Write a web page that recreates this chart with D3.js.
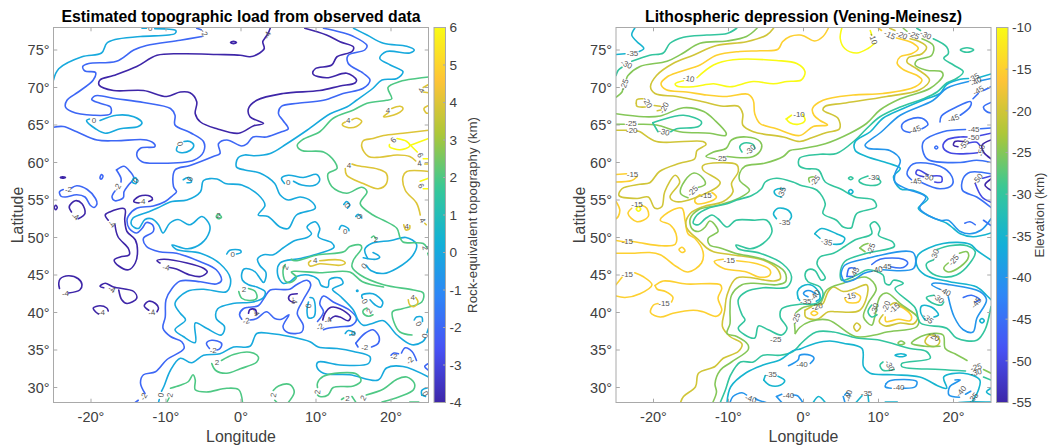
<!DOCTYPE html>
<html><head><meta charset="utf-8">
<script src="https://cdn.jsdelivr.net/npm/d3@7"></script>
<style>html,body{margin:0;background:#fff}svg{display:block}text{font-family:"Liberation Sans",Arial,sans-serif}</style>
</head><body><svg id="c" width="1050" height="445"></svg>
<script>
// ---- axis data ----
const lonTicks=[-20,-10,0,10,20];
const latTicks=[30,35,40,45,50,55,60,65,70,75];
const leftBarTicks=[-4,-3,-2,-1,0,1,2,3,4,5,6];
const rightBarTicks=[-55,-50,-45,-40,-35,-30,-25,-20,-15,-10];
const parula=[[.2422,.1504,.6603],[.281,.3228,.9579],[.1786,.5289,.9682],[.0689,.6948,.8394],[.2161,.7843,.5923],[.672,.7793,.2227],[.997,.7659,.2199],[.9769,.9839,.0805]];

// ---- left panel contours: flat lon,lat lists, one list per line ----
const leftM4=[
[3.9,77.9,3.6,77.2,3.2,76.6,2.9,76.1,3.1,75.2,2.5,74.6,1.2,74.1,-.1,74.3,-3.2,74.4,-7.7,74.5,-11.2,74.3,-13.9,72.8,-17,71.6,-18.8,71,-18.9,70.3,-17,69.6,-13,69.6,-9.9,68.8,-8.1,69.4,-6.8,69.3,-5.9,68.1,-6.1,66.5,-5.4,65.4,-3.2,64.5,-.3,63.9,1.7,64.9,3,65.2,1.2,66.1,1,67.2,2.1,68.3,5.6,69.2,10.5,69.6,13.2,70.2,15.2,70.6,15.4,71,14.1,71.9,11.4,71.3,9.6,71.8,9.9,72.5,12.1,73,12.8,74.1,14.8,74.8,15,75.4,13.2,76.1,11.4,77,8.5,77.9],
[-1.4,76,-1,76.15,-.6,76,-1,75.85,-1.4,76],
[-24.1,58,-23.8,58.1,-23.4,58,-23.8,57.9,-24.1,58],
[-24.9,54,-24.7,54.3,-24.5,54,-24.7,53.7,-24.9,54],
[-22.6,53.4,-22.9,54.1,-22.1,54.9,-21.2,54.5,-20.8,53.2,-21.7,52.5],
[-13.6,54.6,-14.3,54.8,-13.9,55.3,-13.2,55.6,-12.1,55.5,-11.8,55.1,-12.3,54.8],
[-17.7,52.3,-18.1,53,-17.5,53.4,-15.5,53.8,-15.5,52.3,-15.2,50.8,-14.1,49.7,-13.8,48.3,-14.1,46.6,-15,45.7,-16.3,46.2,-16.9,47,-16.1,47.4,-14.9,47.7,-15,48.5,-16.4,50.1,-16.8,51.7],
[-10.8,46.6,-11.2,46.9,-10.3,47.1,-7.2,46.6,-5,45.9,-4.5,45.4,-5.4,44.8,-6.8,45,-8.6,45.8,-9.5,46],
[-24.2,43.2,-24.3,43.9,-24.1,44.5,-23,44.9,-21.7,44.5,-21.2,43.7,-21.5,43,-23,42.6],
[-18.3,43.3,-18.8,43.5,-18.1,43.9,-17,43.4,-14.3,42.8,-13.9,41.9,-15.2,41.2,-15.9,41.7,-16.3,43],
[-19,39.8,-19.4,40.1,-19.7,40.6,-18.8,40.9,-17.9,40.6,-17.7,40.2],
[-12.3,40.3,-12.9,40.9,-12.3,41.5,-11.4,41.2,-11,40.6,-11.2,40.1],
[1,39.9,1.2,40.4,1.9,40.4,2.1,39.7],
[7.1,41.3,6.4,41.7,6.5,42.3,7.5,42.5],
[11.9,39.1,12.5,39.5,13.2,39.4,14.3,38.9,14.6,39.4,13.2,40.5,12,40.7,11.2,39.9,10.9,39]
];
const leftM2=[
[-5.9,77.9,-5.3,77.7],
[-5.2,76.8,-8.1,76.3,-12.6,75.6,-14.3,75,-16.6,73.5,-20.3,73.2,-21.1,72.8,-20.8,72.2,-19.4,72,-19.7,71,-21.7,69.4,-23.2,68.3,-23.4,67.4,-22.6,66.8,-19.7,66.3,-17.4,66.5,-17.4,67.4,-18.8,67.9,-19.9,68.4,-19.4,68.9,-16.6,68.5,-13,68,-9.4,67.2,-8.8,66.3,-8.8,65,-6.8,64,-5,62.8,-5,61.4,-6.3,60.3,-10.8,59.9,-13.2,60.1,-13.9,61,-13.4,61.9,-11.5,62.1,-11.5,62.4,-12.6,63,-16.6,62.9,-19.2,63,-21.9,64.1,-23.7,64.8,-25,64.7],
[11,77.9,13.2,77.4,15,76.8,16.8,75.6,16.5,75,14.3,74.3,14.3,73.2,16.3,71.9,17.2,71,16.3,69.9,13.6,69.2,11,68.3,7.6,67.9,5.4,67.5,5,66.5,5.6,65.6,6.3,64.5,5.4,64.1,3.4,63.4,1.6,63.4,.8,62.5,.1,62.2,-1.9,63,-3,62.5,-2.8,61.2,-3.7,60.8,-6.8,59.6,-8.8,59,-9,56.8,-8.6,56.1,-9.1,55.6,-10.1,54.8,-11.7,54.2,-13.9,53.9,-15,52.9,-15.2,52.3,-14.9,51.2,-13.9,50.6,-13.2,51.2,-12.6,52,-11.8,51.7,-11.7,50.8,-13,49.9,-12.6,48.8,-10.9,48.1,-8.6,47.9,-5.5,46.8,-3.3,45.7,-2.6,44.3,-3.3,43.8,-5.4,44.1,-8.1,44.2,-9.2,43.2,-10,41.7,-10.1,39.4,-10.4,37.9,-9.4,36.8,-7.9,36.1,-7.6,35.2,-9.9,33.7,-11.4,32.1,-13,31.7,-13.4,30.6,-12.8,29.2],
[-13.7,28.3,-14.1,28],
[-18.8,57.9,-18.6,58.4,-18.4,58.2,-18.6,57.8,-18.8,57.9],
[-16.6,59,-15.6,59.5,-14.8,58.8,-14.3,57.9,-15,57,-15.6,56.1,-15.7,55.3,-16.8,54.9,-17.2,55.4,-16.8,56.2],
[-16,57.4,-16,57.9,-16.6,59],
[-23.7,56.4,-24.2,56.1,-24,55.5,-23.4,55.4,-21.9,55.7,-20.8,55.4,-20.1,54.3,-19.6,54,-19.2,54.5,-19.4,55.2,-20.5,56.4,-21.9,56.9,-22.6,56.6],
[-4.2,35.2,-4.6,35.9,-3.9,36.3,-2.6,35.9,-2.8,35.2,-3.2,35],
[1.2,39,2.1,39.2,3.4,40.1,4.5,39.2,5.4,39.1,6.4,39.7,5.6,38.1,6.3,37.3,8.1,37.4,8.3,38.3,7.5,39.9,8.3,41.7,9.3,43.7,8.8,44.3,7.4,43.7,6.5,43.1,3.9,43,3.2,42.1,2.3,40.9,1,40.7,.3,40.5,-.2,39.7,.1,39.1],
[10.2,38.8,11,40.1,10.5,41.2,11,42.2,12.3,41.4,14.5,40.3,15.4,39.2,14.8,38.3,13.2,38.1,11.6,37.9,11,37.7],
[15.3,35.9,16.5,37.2,17.6,37.7,18.4,36.8,18.3,35.9,17.4,35.4],
[15.3,35.9,15.6,35.4],
[20,34.3,20.4,34.6,21,34.5],
[21.4,34.6,21.9,35.3,22.8,34.8,23.4,33.6],
[25,33.2,24.5,32.8,25,32.3]
];
const left0=[
[-25,71,-24.3,72.5,-21.2,74.1,-18.6,74.6,-17.9,75.9,-16.8,76.4,-13.4,76.8,-8.8,77.2,-8.7,77.6,-9.9,77.8,-11.5,77.85],
[-13.2,77.9,-12.6,77.9],
[15,77.9,16.8,77,19,75.9,22.1,75.5,23.1,75,22.5,74.6,19.4,74.8,18.5,73.9,19.9,73,21.6,72.1,20.8,71.2,18.8,71,17.6,69.9,15.4,68.3,14.1,67.4,11.9,66.5,8.8,64.3,6.1,62.5,3.9,61.2,1.7,60.9,.5,61,-.4,60.6,-.6,59.4,.5,59,2.5,58.6,4.5,57.2,5.2,55.7,6.3,55,7.9,55.4,9.4,54.8,9.9,53.9,7.4,53,6.3,51.2,5.2,51.4,3.6,52.8,2.3,53,3.2,54.3,2.3,55.7,.1,57,-2.1,57.2,-3.2,57.8,-5,57.6,-5.4,56.1,-7.2,55,-9.2,54.8,-11.2,53.9,-12.4,53.4,-14.4,52.6,-14.6,51.7,-13.7,51.2,-12.8,52.4,-11.9,52.5,-11,51.7,-10.4,50.6,-9.5,51.9,-8.4,52.4,-6.8,51.7,-5.2,52.8,-4.2,51.7,-4.2,50.8,-5.3,49.2,-7.1,48.5,-9.2,49,-8.6,48.4,-5.4,47.9,-2.8,46.5,-1.4,44.5,-1.9,42.8,-5,43.1,-7.2,42.8,-8.8,41.2,-8.1,39.9,-7.4,39,-8.8,37.7,-7.7,36.8,-6.1,36,-6.1,38.6,-4.6,37.9,-2.6,37,-2.2,38.1,-3.3,39.2,-3.1,40.5,-1.1,41.2,1.6,41.4,3,42,3.2,42.8,2.1,43.4,1,43.7,.2,44.3,.1,45.2,.4,45.8,1.1,45.8,1.9,45.4,2.5,44.6,3,44,3.3,44.6,3.3,45.4,2.5,46.3,2.2,47.1,3,47.7,4.3,47.7,5.6,48.6,7.2,49.6,8.8,50,9.4,50.5,8.8,51.4,9.9,52.1,10.5,51.2,10.3,50.1,12.1,49.3,12.4,48.7,10.5,47.9,7.9,47.2,5.2,46.6,4.9,45,5.6,43.9,6.5,44.1,7.4,44.8,9,45,10.3,44.4,10.7,43.6,11.6,43.4,11.8,44.4,13.2,44.6,13.6,43.9,12.2,43.1,13.2,42.2,15,40.3,15.6,39,16.3,38.3,17.4,38.5,19,38.9,20.8,37,22.8,35.7,24.2,36.1,24.6,36.6],
[24.8,37.3,25,37.9],
[-18.8,65.6,-16.6,66.3,-14.3,66.1,-13.2,65.3,-13.7,64.8,-16.1,64.5,-18.1,63.9,-19.4,64.5,-20.6,65.6,-20.2,65.8],
[-8.5,62.1,-8.6,61.6,-7.9,61.3,-6.8,61.6,-6.3,62.3,-6.8,62.8,-7.6,62.8],
[-14.5,57.4,-14.2,58,-13.9,57.8,-14,57.2,-14.5,57.4],
[-7.7,57.7,-7,58,-6.6,57.4,-7.2,57.3],
[5.8,57.2,5.4,57.9,6.3,58.3,8.3,58,10.1,58.4,10.5,57.7,9.9,57,8.1,57,7,57.5],
[13.1,51.1,13.4,51.6,14.3,51.2,14.4,50.9],
[-1.9,47.8,-1.5,48.3,-.1,48.3,0,48,-.6,47.8],
[13.7,54.4,14.1,54.8,14.5,54.3,14.2,53.9],
[15.3,52.8,15.6,53.1,16.1,52.6],
[16.2,41.9,16.1,42.3,17.6,42.5,18.9,41.4,18.6,40.7,17.9,41,17.2,41.7],
[15.4,42.9,15.5,43,15.6,42.9,15.5,42.8,15.4,42.9],
[9,41.4,8.8,40.3,9,39.3,9.7,39.4,9.9,40.8,9.6,41.9,9.2,42],
[13.9,37.2,14.3,37.6,15.2,37.2,14.5,37],
[23.1,39,23.4,39.4,24.1,39.4,24.2,38.8],
[-10.6,29.5,-10.3,30.1,-9.4,32.3,-8.1,33.9,-6.6,33.3,-5,34.3,-2.8,34.5,-1,35.4,1.2,35.5,2.1,37.2,3.9,37.2,6.5,36.8,9.2,36.1,10.3,35.4,12.8,35.2,15,34.8,17.2,34.1,17,33.2,13.2,33,10.3,33.4,10.1,32.8,11,31.9,14.5,31.7,18.3,31,19.4,32.6,21.6,32.8,25,31.4],
[-11,28,-10.9,28.4],
[16.9,47.2,16.5,48.4,17.4,49.2,20,49.6,22,50,23.4,49.1,22.9,47.6,20.8,45.9,19,45.2,17.3,45.6,16.7,46.3],
[16.3,47.3,18,47.1,18.5,47.4,17.6,48],
[24.1,29,24.1,29.6,25,30],[24.1,29,24.6,28.8]
];
const left2=[
[25,71.4,23.4,71.2,21.2,70.8,19.6,70,20.1,68.5,19.4,68.3,16.8,67.9,15,67,12.3,65.9,10.5,64.1,8.3,63.1,7.5,62.3,8.1,61.6,11,61.4,12.5,60.1,12.8,59.2,11.6,58.5,12.1,56.8,14.1,55.9,16.1,56.7,16.8,56.1,15.9,54.5,17.6,53,19,52.3,20.8,51.2,21.2,50,21.6,49.4,24.3,49.2,24.8,48.6],
[24.9,47.9,25,47.6],
[6.7,47.1,7.2,46.9,10.3,47.7,13.7,48.1,14.5,48.8,15.9,49,16.1,48.6,15,47,14.8,46.1,15.9,45,19,43.7,23,43,24.3,42.6,24.1,41.4,21.5,40.5,20.2,40.1,20.4,38.7,21.2,37.4,22.8,37],
[5.9,46.4,5.6,45.6,5.9,44.2,6.6,44,7.4,44.7,6.7,45.4,7.2,45.5,10.5,45.3,14.5,45.4,16.2,44.1,19,43.4],
[-9.9,28,-9.6,28.6],
[-9.4,29.9,-8.1,30.3,-7,30.8,-6.4,31.7,-6.1,31,-6.1,29.7,-4.6,29.4,-1.9,29.9,-.3,29.7,.2,28],
[-3.9,33.2,-3.4,32.3,-1.9,31.9,-.1,32.5,2.1,33.4,2.3,34.1,1.2,34.7,-1,34.4,-2.6,33.6],
[1,43.2,1.9,42.8,2.1,41.9,1.2,41.6,.1,41.9,-.3,42.8],
[4.3,29.6,5,30.2,6.5,30.4,7.1,29.4,6.3,28],[4.5,28.3,4.8,28],
[10.2,30,10.2,30.6,11,31.5,15.4,31.8,16,30.9,15,30.2,12.3,30,11.6,29,10.5,28.8,10.2,29],
[14.8,28.8,15.3,28.05],[13.7,28.6,13.4,28.4],
[16.7,29,19,29.8,20.8,31.1,22.1,31.4,23.1,30.6,23,29.7,21.2,28.8,19.7,28.3,18.8,28.05],
[17.4,50,17.7,50.2,18,49.8],
[16.8,40.6,16.3,40.3,16.3,39.9,17,39.5,17.6,39.7],
[-3.3,52.8,-3,53.1,-2.6,52.7,-3,52.5,-3.3,52.8],
[22.5,28.05,23.7,28.05]
];
const left4=[
[24.3,70,25,70.4],[24.3,69.4,25,69.3],
[25,67.6,24.4,67.2,24.7,66.6,25,66.6],
[19.6,66.6,19,66.1,20.8,66.5,21.6,67.2,21.2,67.5,20.1,67.2],
[13.9,65.4,13.5,65.1,14.1,64.7,15.4,64.8,16.1,65.5,15.4,65.9,14.8,65.7],
[25,64.3,21.6,63.9,19,63.6,17.6,63.2,16.3,62.9,16.1,62.1,17,60.8,18.5,60.7,20.8,61,22.5,60.8,23.3,60.2],
[24.5,59.8,25,59.8],
[13.9,59.2,14.1,58.3,16.3,57.2,18.3,56.5,19.4,57.2,19.4,58.5,18.3,59.1,15.4,59.6,14.8,59.8],
[25,58.8,22.1,58.8,21.6,58.1,21.9,56.3,23.4,54.6,23.9,53],[24.5,51.9,24.7,51.7],
[21.7,51.7,22,51,22.5,51.2,22.5,51.6],
[10.5,46.9,13.2,47,13.9,46.6,13.2,46.3,10.5,46.5,9.2,46.2,9,46.6,9.3,46.9],
[22.3,41.7,22.5,41,23.1,40.8,23.6,41.4,23.3,42]
];
const left6=[
[20.8,63.2,22.1,62.8,22.5,62.2,21.2,61.7,19.8,62.1,19.8,62.4],
[22.6,62.3,25,63.2],[22.6,62.3,23.5,61.4],[24.3,60.5,25,60.5],
[25,57.9,23.9,57.5],[24.3,56.5,25,56.5]
];
const leftContours=[[-4,leftM4],[-2,leftM2],[0,left0],[2,left2],[4,left4],[6,left6]];
const leftLabels=[["0",-12.1,77.9,0],["-2",-4.9,77.3,60],["-4",3.5,77,-65],["0",-19.6,65.6,0],["0",-8.1,62.5,70],["-2",-23,56.5,0],["-2",-16.5,56.7,-60],["0",-14,57.6,-60],["0",-6.8,57.8,-60],["-4",-13.2,54.8,0],["-4",-22.1,52.8,30],["-4",-17.2,51.8,45],["2",-3,53,0],["-4",-23.4,42.6,0],["-4",-17.2,43.1,30],["-4",-18.6,40.1,0],["-4",-11.9,40,-10],["-4",-10,46,10],["-2",-3.7,35,0],["-2",-13,28.8,-60],["0",-10.7,29,-80],["2",-9.5,29,-80],["2",-3.2,33.4,0],["2",.4,43.1,0],["-2",.7,38.9,-10],["-4",2,40,60],["-4",7.1,41.6,80],["0",9,40.9,-85],["-2",10.5,38.1,-30],["-4",11.6,39,-20],["0",15,37.3,0],["-2",16.5,35.4,0],["-2",20.4,34.2,0],["-2",22.5,33.6,-45],["2",4.3,29,-80],["2",10.2,29.4,-85],["2",14.2,28.6,0],["2",16.3,28.6,-60],["0",24.6,29.2,60],["0",23.7,38.5,60],["0",24.5,36.9,-80],["4",22.9,42,0],["2",17.1,40.2,-60],["0",16.5,41.5,60],["0",16.4,46.2,-50],["2",5.9,46,-70],["4",9.9,47,0],["0",13.9,50.9,0],["0",-1.1,47.8,0],["2",18,49.8,0],["2",24.6,48.6,80],["4",22.1,51.5,0],["0",14.2,54.3,60],["0",15.8,52.8,60],["4",24.2,52.3,60],["6",24,56.9,60],["4",14.4,59.6,0],["0",6.3,57.4,0],["4",23.8,59.9,-10],["6",23.9,61,60],["6",20.3,63,-50],["4",19.6,67,0],["4",14.3,65.6,0],["4",24,69.6,-70]];

// ---- right panel contours ----
const rightM10=[
[-14.2,71.3,-12,73,-9.4,73.7,-3.6,73.6,-.9,73.2,.2,72.1,-.3,71,-2.2,70.8,-4,70.5,-6.7,70.8,-9.8,70.1,-12,70.5,-14.7,70.1,-16.9,70.2,-17.1,70.5,-16,70.9],
[5.1,77.9,4.9,76.5,5.5,75.2,7.1,74.6,8.6,75.2,9.5,75.9],[9.1,77,8.9,77.6],
[-2.3,65.8,-1.6,66.3],[-2.3,65.8,-1.8,65.3,-.7,65.1,.2,65.6,-.1,66.4],
[-22.3,53.8,-22,54.1,-21.7,53.8,-22,53.5,-22.3,53.8]
];
const rightM15=[
[3.3,77.9,2.6,76.8,1.5,76.2,.2,76.8,-.5,77,-1.8,76.8,-2.8,76.1,-3.4,75.1,-5.8,74.9,-8.5,74.8,-11.6,74.3,-13.8,73,-16.5,72.1,-18.2,71.4,-19,70.5,-18.3,69.7,-15.6,69.4,-12.9,69,-10.2,68.8,-7.4,69.1,-6.7,68.3,-6.5,66.5,-5.8,65.2,-3.6,64.5,-.5,63.6,1.3,64.8,3.2,65,2.2,65.6,1.4,66.3,1.2,67.2,2.6,68.3,6.6,69,10.6,69.2,14.9,70.1,15.8,71,15.3,71.5,13.3,72.4,12.5,73.2,12.9,74.1,14.4,74.5,15.3,75.2,14.6,75.9,12.4,76.6],
[10.4,77.6,10,77.9],
[-25,58.4,-23.6,58.5],[-22.2,58.1,-22.9,57.6,-25,57.4],
[-13.8,55.7,-14.5,55,-14.2,54.5,-12,55,-11.6,55.4,-12.2,56],
[-25,54.8,-24.5,53.7,-24.7,52.8,-25,52.5],
[-22.9,53.9,-23.4,53.2,-22.2,52.1,-20.7,52.8,-20.9,53.9,-21.6,54.3],
[-23,49.5,-21.8,49.3,-18.9,48.9,-17.1,49.1,-17,50.5,-17.8,51.7,-19.1,52.3,-17.6,53.6,-16.2,53.9,-15.8,52.3,-15.4,50.5,-14.5,49.9,-13.4,48.1,-13.6,46.6,-15.4,45.4,-16.9,46.1,-19.1,47.7,-20.5,48,-22.5,47.9,-25,47.9],
[-25,49.6,-23.8,49.4],
[-16.6,48.4,-16.2,48.7,-15.8,48.2,-16.2,48,-16.6,48.4],
[-22.5,45.3,-21.4,44.8,-20.2,43.7,-21.8,42.5,-23.8,42,-25,42.2],[-25,43.7,-24.2,44.7],
[-19.8,43.6,-18.7,44.2,-15.6,43.8,-11.1,43.7,-10.9,43.2,-11.4,41.9,-10.9,40.3,-11.6,39.5,-13.4,40.1,-14.7,40.3,-17.4,39.9,-19.1,39.4,-20.4,40,-20,41,-19.4,41.2],
[-17.6,41.4,-17.4,42,-18.4,42.8,-19.5,43.1,-19.8,43.6],
[-10.7,47.1,-11.9,46.8,-10.7,45.9,-7.6,45.4,-5.8,44.7,-4.5,45,-4.5,45.7,-6.2,46.5,-8.9,46.9],
[5.5,41.9,5.8,41.4,7.3,41.4,7.6,42.1,6.9,42.6],
[1,39.9,1.4,40.2,1.9,39.9,1.4,39.6,1,39.9],
[10.9,39.4,11,38.8,12.7,39.1,14.2,38.9,14.4,39.5,13.3,40.6,12.8,40.8]
];
const rightM20=[
[-4,77.9,-4.9,77,-7.6,76.1,-11.6,75.6,-14.7,74.3,-17.4,73.2,-19.6,71.6,-20.4,70.1,-19.8,69.2,-16.9,68.8,-13.4,68.1,-10.7,67.5,-8.7,67.5,-8.1,66.5,-8.1,65,-6.7,64.1,-2.7,63.4,-.5,62.8,1.1,63.3,3.1,64,4.8,64.5,4.6,65.9,2.6,67,2.9,67.5,5.3,67.9,11.1,68.8,15.5,69.7,16.8,71,15.1,72.5,13.8,73.4,14,74,15.8,74.5,16.4,75.4,15.5,76.1,14.2,76.5],
[12.2,77.6,11.5,77.9],
[-25,64.3,-23.6,64.3],[-22.2,64.2,-21.8,64.1,-19.6,62.8,-13.4,62.8,-13,62.4,-14.2,61.6,-14.5,60.5,-16.5,59.9,-19.2,58.8,-20.5,57.3,-21.8,57.1,-24.2,56.5,-24.6,55.6,-22.2,55.2,-20.7,55.4,-19.8,53.9,-18.9,54.1,-18.5,56.1,-17.1,58.3,-16.5,57.4,-17.8,55.4,-17.1,54.8,-14.7,55.2,-11.1,57.3,-13.4,59,-13.4,59.6,-8.9,59.7,-8.7,58.8,-9.6,57.2,-9.4,56.1,-10.7,54.8,-13.4,54.1,-15.1,53.2,-15.7,51.9,-15.4,51,-14,49.7,-12.9,48.6,-12,48.1,-9.6,47.7,-5.4,47,-3.4,45.7,-3.1,44.5,-4,44.2,-8.9,44.6,-10.2,42.3,-10.5,40.3,-10.8,38.1,-9.8,36.8,-8.2,35.8,-8.7,34.8,-10.7,33.9,-11.8,32.8,-14,31.9,-14.4,30.1,-16,28.8,-16.4,28],
[-22.3,67.9,-22.2,68.4,-21.4,68.5],[-22.3,67.9,-22.2,67.5,-21.1,67.4],
[-19.9,67.6,-19.1,67.5],[-19.5,66.9,-19,67],
[.2,40.3,.3,39.4,1.8,39.1,3.3,40.1,4.4,40.1,7.5,40.3,8.6,43,8.4,43.7,6.9,43.2,5.3,42.8,4,43.4,3.3,42.8,2.6,41.2,2.2,41],
[1.1,40.8,.2,40.3],
[6.7,38.1,7.1,38.6,7.6,38.1,7.1,37.5,6.7,38.1],
[10.6,39.7,10.1,38.8,10.9,38.2,12.9,38.6,14.7,38.5,15.2,39.4,13.5,40.6,12.2,41.3,11.6,41],
[16.2,36.1,16.8,37,18,36.6,18.1,35.9,17.6,35.5,16.7,35.6,16.2,36.1]
];
const rightM25=[
[-25,68.7,-24.2,69.4,-24.1,69.8],[-23.6,71.2,-23.4,71.6,-21.8,72.8,-18.2,73.5,-16.2,74.5,-13.8,75.9,-10.2,76.2,-7.6,76.8,-6.2,77.9],
[13.3,77.9,13.8,77.5],[15.8,76.5,17.3,75.6,17.1,74.3,15.1,73.6,14.9,73,16.4,72.3,18.4,72.1,18.6,71.6,16.9,69.9,12.9,68.5,10.2,67,8.4,65.2,6.2,63.9,2.9,62.5,-.5,61.8,-1.8,61.6,-2.7,60.8,-5.2,59.9,-7.8,59.5,-8.5,58.6,-8.5,57.6,-7.2,56.3,-8.7,55.2,-11.4,54.3,-14,53.7,-15.1,52.5,-14.9,51.2,-14,50.8,-13.1,51.4,-12.5,52.2,-11.6,51.4,-11.4,50.8,-12.7,49.9,-12.5,49,-11.1,48.6,-9.1,47.9,-5.1,47,-2.5,45.4,-2.4,44.1,-3.6,43.7,-6.7,43.9,-8.2,43.7,-9.6,42.3,-9.8,40.3,-9.8,38.5,-10.2,37.2,-8.9,36.8,-7.4,35.7,-7.4,35,-9.6,33.4,-11.1,32.3,-11.8,30.5,-11.6,29.4,-12.1,28],
[-25,66.5,-21.3,66.1,-19.1,66.2,-16,67.3,-13.3,66.8,-11.8,65.6,-10.3,63.9,-10.4,63.6,-12.5,63.9,-16.5,64.1,-19.6,65,-22,65.1],[-23.9,65.1,-25,65.1],
[-11.8,60.5,-13,60.8,-12,61.4,-10.3,61.9,-9.6,63,-7.6,63.4,-5.8,62.8,-5.6,61.9,-6.7,60.8,-10.2,60.8],
[-15.4,55.3,-16.4,55.9,-15.8,57.6,-14.6,58.6,-13.4,57.9,-13.1,57.1,-14,56.7],
[.8,57.4,.7,57.9,1.3,58.1],
[-1.1,37.2,-.5,38,.9,38.8,3.3,39,6.9,36.8,9.5,37,11.1,37.4,15.1,38.1,15.3,39.2,12.9,41.2,11.1,42.6,10.2,42.1,9.5,39.4,9.1,38.3,8,39.4,8.6,41.2,9.7,43.2,8.4,44.7,5.3,43.9,3.1,43,2.2,41.2,.9,40.9,-.2,40.6,-1,40],
[-1.2,38.5,-1.1,37.2],
[7.5,48.6,8,49,8.6,49.2],[7.5,48.6,8.2,48.1],
[12.6,35.9,13,36.2,13.5,35.9,13,35.7,12.6,35.9],
[18.2,35.5,16.2,35.5,14.4,35.9,16.2,37,18.6,37,18.9,35.2,20.2,34.5,21.8,33.6],[24,32.4,25,31.9],
[19.3,46.6,18.7,45.9,19.3,45.4,20.9,46.1,22,47.4,21.8,48.1,20.8,47.9]
];
const rightM30=[
[-25,71.6,-24.7,72.3,-24.2,72.7],[-22.9,73.5,-20.5,74.3,-18.7,74.6,-17.8,75.9,-16,76.7,-12.9,77,-10.2,77.2,-8.9,77.9],
[15.1,77.9,15.6,77.6],[17.3,76.5,19.1,75.4,19.3,74.5,18.7,73.9,20,73,21.3,72.1,20.4,71.2,19.1,70.6,17.8,69.4,16,68.5,12.9,67.4,10.2,66.1,8.4,64.5,6.9,63,4.4,61.2,2.2,61.1,-.5,60.6,-.6,59.6,.2,59.2,2,59,2.9,57.4,4.9,56.5,6.9,55.4,9.3,55,9.7,54.1,7.1,53.2,6.6,51.9,6.4,51.3,5.3,51.4,4.4,52.3,2.6,53.2,2.9,54.5,1.8,56.3,-.5,57,-1.4,57.4,-3.6,57.9,-5.1,57.4,-5.6,56.5,-6.9,55.6,-8.9,55,-10.2,54.5,-12.7,53.9,-14.2,53,-14.7,51.9,-14,51.7,-13.1,52.5,-12.2,53,-11.4,52.5,-10.2,51.4,-9,52.3,-6.5,52.3,-4.9,52.3,-4.2,50.8,-5.4,49.2,-7.1,48.5,-9,49,-8.7,48.5,-5.8,47.9,-2.8,46.5,-1.6,44.8,-2.2,43.4,-5.4,43.3,-7.6,42.8,-8.7,41.7,-8.2,39.7,-7.8,39,-8.7,37.9,-7.8,37,-6.5,36.6,-6,38.2,-4.7,37.7,-2.9,37,-2.2,37.9,-3.1,39.4,-2.9,40.5,-.5,41.1,1.7,41.2,2.6,42.3,2.2,43.4,.6,44.1,.2,45,.6,45.7,1.5,45.6,2.4,44.3,2.9,44.6,1.8,46.5,2.2,47.4,4,47.9,5.5,48.8,6.9,49.7,9.1,50.5,8.9,51.7,9.5,52.1,10.2,51.2,10,50.3,11.9,49.4,12.1,48.8,8.4,47.9,5.5,46.8,4.9,45.2,5.1,44.3,7.1,45,8.6,45.7,10.6,45,10.9,43.9,11.5,43.7,12,44.3,13.3,43.9,12.2,43.2,14.9,40.6,15.6,38.6,19.1,37.9,20.4,36.6,23.1,36.3,24.2,37.7,25,40.8],
[-20.1,65.3,-19.2,65.6,-16,66.3,-13.6,65.4,-14,64.8,-16.9,64.5,-17.7,64.1],[-19.4,64.1,-20.1,65.3],
[-8.2,61.4,-8.5,62.1,-7.9,62.6,-6.7,62.4,-6.5,61.9],
[6,57.9,6.3,58.1,6.6,57.9,6.3,57.7,6,57.9],[20.9,75,21.8,75.3,22.7,75,21.8,74.7,20.9,75],
[8.6,58.2,7.4,57.6,8,57.1,9.8,57,10.3,57.4,9.9,57.9],
[17.3,47,16.4,46.5,16.6,45.7,18.2,44.8,20.4,45,22.2,46.6,22.9,48.1,21.8,48.9,19.5,48.9,17.8,48.4],
[9.1,41,8.6,40.1,9.1,39.4,9.8,39.7],
[17.4,42.3,16.4,42,17.1,41.3,18.4,41,18.7,41.4],
[-.5,35.7,1.7,37.4,4,37.4,7.1,36.6,10.2,36.3,14.2,35.2,16.4,34.8,16.9,33.9,13.1,33.2,13.1,32.8,18.2,32.4,21.6,32.2],[24,31.4,25,31],
[-.5,35.7,-1.4,34.8,-3.1,34.3,-5.4,34.3,-6.7,33.4,-8.4,33.4,-9.7,31.7,-10.4,29.7,-11.1,28],
[10.6,33.4,10.2,33,10.6,32.3,12.1,32.4]
];
const rightM35=[
[-22.5,77.9,-22.9,77,-22.2,76.1,-21.3,75.2,-21.9,74.8],[-25,74.4,-23.8,74.5],
[25,71.8,23.3,71.3],[22,71.2,20.9,71.1,19.1,70.4,18.2,69.2,16.4,68.5,13.3,67.2,10.6,65.9,8.9,64.1,6.9,62.8,6.9,61.6,8.4,60.8,11.3,59.9,12.9,59.2,12,58.1,12.9,56.5,14.6,56.3,16.6,55.2,15.3,53.9,16.9,52.8,19.1,51.9,20,51.2,20.9,50.5,22.6,50.1,25,50.6],
[6,56.1,6.3,56.4,6.6,56.1,6.3,55.8,6,56.1],
[-2.9,55.4,-3.6,55.6,-3.9,56.2,-3.4,56.5,-2.6,56.5],
[-3.6,52.5,-4,53.2,-3.4,53.9,-2,53.6,-1.6,52.8,-1.8,52.4],
[1.5,50.5,2.4,51.2,4.4,50.5,5.5,49.9,5.1,49.2,4,49.1],[2.2,49.9,1.5,50.5],
[-.7,41.9,-.8,42.8,-.2,43.5,.9,43.7,2,42.8,2.2,41.9,1.7,41.5],[-.5,41.6,-.7,41.9],
[25,47,23.1,48.3,22.2,49.1,18.6,49.2,15.3,47.7,15.1,46.3,16.2,45,19.5,44.1,23.1,43.4,24.4,42.3,25,41.7],
[16.2,39,15.6,40.1,15.8,40.9,17.1,40.7,18,39.7,17.4,39.4],
[23.5,38.9,23.8,39.2,24.1,38.9,23.8,38.6,23.5,38.9],
[12.2,34.3,13,34.5,13.7,34.3,13,34.1,12.2,34.3],
[-.5,35.1,1.6,35.9,3.5,36.2,5.3,35.9,7.8,35.2,8,32.8,8.9,31.9,12,31.7,15.5,31.4,18.2,30.1,19.1,29.9,18.7,31.4,21.3,31.9,23.5,31,23.3,29.6,22.4,28],
[-.5,35.1,-1.4,34.9,-3.1,33.7,-5.4,33,-7.6,32,-9.7,30.1,-10.2,28],
[-5.3,31,-4.5,30.3,-3.1,30.3,-2.5,30.9,-3.4,31.5],[-5.3,31,-5.1,31.6],
[7,28,7.8,28.9],[8.6,29,8.7,28],
[1.3,28,2,28.8,2.9,28],
[25,29.9,24.4,29.4,25,29],
[20.7,28,22.5,28.1,25,28.05],
[10.9,28.05,12.5,28.05]
];
const rightM40=[
[25,71.2,23.6,70.9],[22,70.8,19.1,69.9,17.3,68.3,12.9,66.3,10.4,64.1,8.2,62.3,8.6,61.9,11.5,61.6,12.9,60.3,12.2,58.5,12.2,57.4,13.7,56.5,16.3,55.4,15.5,53.9,18.2,52.3,19.3,52.3,20.9,50.8,22.2,50.5,23.7,51,25,52.5],
[.6,42.1,0,42.5,.4,42.9,.9,42.9,1.6,42.5],
[5,45.2,5.5,46.3,8.4,47.2,14.6,48,14.7,45.9,10.6,45.7],[9.1,45.5,8,45.2,6.6,44.3,5.5,44.1,5,45.2],
[18.2,43.1,17.1,43.7,17.3,43.9,19.5,43.7,23.5,42.8,24.4,41.7,23.1,39.2,22.6,37.4,21.3,37.7,20.1,39.4,19.3,42.1],
[-2,32.9,-.7,33.7,-.5,34.3,.9,34.3,1.4,33.9,.9,33.2],
[-9.8,28,-9.4,28.8,-8.2,29.3,-7.6,29],[-6.4,28.5,-6,28.3,-5,28],
[-3.6,28.8,-2.9,29.1],[-1.4,29,-.8,28.9,-.1,28],[-3.6,28.8,-2.9,28],
[5.5,29,5.8,29.3,6.2,29],[5.3,28.8,5.5,28.1],
[11,30.5,11.5,30.9,15.1,30.8,14.9,30.1,13.3,29.9],[11.7,29.9,10.9,30.1,11,30.5],
[20.2,31,20.9,31,19.5,30.1,19.4,29,20.8,28.7],[21.6,29.1,22.3,29.5]
];
const rightM45=[
[14.2,64,13.3,64.3,13.1,65,14,65.7,15.8,65.9,16.6,65.1,15.8,64.5],
[18.2,65.4,18.4,66.2,20.4,67.4,22.3,68.1,22.2,67.4,20.9,66.3],
[22.6,68.5,23.3,69.2],[24,69.6,25,70.1],
[25,68,24,67.4,24.4,66.8,25,66.6],
[25,64.6,23.6,64.5],[21.6,64.4,18.6,64.1,16,62.8,15.9,61.6,16.6,60.4,20.9,60,23.1,60.3,25,60],
[14.4,57.7,13.8,58.5,14.6,59.8,18.2,59.5,19.8,58.1,19.8,57,18.2,56.5,15.8,57.3],
[25,58.5,22.2,58.7,21.3,57.9,21.2,56.3,23.1,55.4,25,54],
[9.1,46.4,10.2,47.1,13.3,47.1,13.9,46.6,13.3,46,11.6,46.1],
[5.8,44.8,6.1,45.9,6.9,45.9],[6.6,44.8,5.8,44.8],
[21.3,42,22.4,42.3,23.5,41.7,22.9,41.4],
[21.5,51.9,22.2,52.1,22.9,51.7],[24,52.3,25,51.6],
[17.5,62,17.7,62.2,17.9,62,17.7,61.8,17.5,62]
];
const rightM50=[
[25,63.9,23.6,63.6],[21.8,63.4,20.9,63.4,19.1,63,18.6,62.1,19.5,61.3,22.2,61.2,23.2,61.3],[23.5,62.3,23.1,62.7,22,62.6],
[16,58.1,15,58.5,15.2,59,16.6,58.3],[17.2,58.2,18.4,58.1,18.4,57.4,17.5,57.4],
[25,58.2,23.9,57.9],[22.9,57.2,23.8,55.4,25,54.7]
];
const rightM55=[
[20.6,62.1,20,62.3,20.2,62.8,21.3,62.8],
[25,63,23.8,62.3,24,61.4,25,60.5],
[25,57.8,24.2,57,25,56.3]
];
const rightContours=[[-10,rightM10],[-15,rightM15],[-20,rightM20],[-25,rightM25],[-30,rightM30],[-35,rightM35],[-40,rightM40],[-45,rightM45],[-50,rightM50],[-55,rightM55]];
const rightLabels=[["-35",-22.8,74.6,0],["-30",-23.6,73.1,25],["-25",-23.9,70.4,-70],["-10",-15.3,71.2,10],["-20",-20.8,68,60],["-20",-18.6,67.3,-60],["-10",-.6,66.5,0],["-25",-23,65.2,0],["-20",-22.9,64.3,0],["-30",-18.6,64.1,15],["-30",-7.1,61.7,-45],["-25",-11,60.6,0],["-15",-22.8,58.4,0],["-25",-14.8,56.2,-45],["-15",-13,55.7,0],["-15",-22.2,54.5,0],["-35",-2.9,56,-70],["-35",-2.5,52.1,0],["-15",-23.5,49.5,0],["-15",-9.9,47,0],["-15",-23.5,45.1,0],["-15",-18.6,41.2,0],["-25",-1,39.2,-70],["-35",.3,41.5,0],["-40",1.5,42.3,-50],["-25",-3.7,36.5,0],["-40",-.2,33.1,0],["-35",-4.3,31.8,0],["-40",-7,28.5,20],["-40",-2,29,0],["-40",6,28.9,-80],["-35",8.4,29.3,0],["-10",9.3,76.5,70],["-15",11.5,77,25],["-20",13.1,77,25],["-25",14.7,77,25],["-30",16.3,77,25],["-35",22.7,71.3,-30],["-40",23,70.8,-30],["-45",23.3,69.6,-30],["-45",20,65.9,-20],["-45",14.9,64.4,-20],["-45",22.7,64.5,0],["-50",22.7,63.4,0],["-55",21.4,62.4,-50],["-50",23.7,61.6,-80],["-30",9.4,58.1,0],["-25",1.5,57.6,-50],["-45",15,57.5,-10],["-50",16.6,58.1,15],["-50",23.2,57.8,-50],["-35",3.1,49.4,10],["-25",9,48.5,-70],["-45",6.8,45.3,-60],["-40",9.8,45.7,-10],["-45",11,46.2,0],["-30",17.5,47.7,-70],["-25",20,47,-50],["-40",18.9,42.8,30],["-30",18,41.9,40],["-45",23,41.3,-50],["-35",16.6,39.2,40],["-15",6.2,42.2,-10],["-20",1.8,40.8,-15],["-30",9.5,40.5,-75],["-20",11,40.8,-70],["-15",12.1,40.6,-40],["-20",17.4,36.8,30],["-25",23,32.7,-15],["-30",23,32,-15],["-30",11.5,32.9,60],["-40",12.7,30,0],["-40",21,29.5,-50],["-35",22.6,28.6,-50]];

// ---- drawing ----
const svg=d3.select("#c");
const t=d3.range(parula.length).map(i=>i/(parula.length-1));
const par=d3.scaleLinear().domain(t).range(parula.map(c=>d3.rgb(c[0]*255,c[1]*255,c[2]*255))).interpolate(d3.interpolateRgb);
const W=375,H=375,TOP=27.5;
const AX="#a9a9a9",TX="#404040";
function panel(X0,title,contours,labels,cmin,cmax,barTicks,barLabel,labelX){
 const x=d3.scaleLinear().domain([-25,25]).range([X0,X0+W]);
 const y=d3.scaleLinear().domain([28,78]).range([TOP+H,TOP]);
 const color=v=>par((v-cmin)/(cmax-cmin));
 const id="clip"+X0;
 svg.append("clipPath").attr("id",id).append("rect").attr("x",X0).attr("y",TOP).attr("width",W).attr("height",H);
 const g=svg.append("g").attr("clip-path",`url(#${id})`);
 const pts=a=>d3.range(0,a.length,2).map(i=>[a[i],a[i+1]]);
 contours.forEach(([lev,lines])=>{
  lines.forEach(a=>{
   let p=pts(a);
   const closed=p.length>3&&p[0][0]===p[p.length-1][0]&&p[0][1]===p[p.length-1][1];
   if(closed)p=p.slice(0,-1);
   const ln=d3.line().x(d=>x(d[0])).y(d=>y(d[1])).curve(closed?d3.curveCatmullRomClosed:d3.curveCatmullRom.alpha(.5));
   g.append("path").attr("d",ln(p)).attr("fill","none").attr("stroke",color(lev)).attr("stroke-width",1.6).attr("stroke-linejoin","round").attr("stroke-linecap","round");
  });
 });
 labels.forEach(([s,lo,la,ang])=>{
  g.append("text").attr("transform",`translate(${x(lo)},${y(la)}) rotate(${ang})`).attr("text-anchor","middle").attr("dy","0.35em").attr("font-size",8).attr("fill","#555").text(s);
 });
 // box + ticks
 svg.append("rect").attr("x",X0).attr("y",TOP).attr("width",W).attr("height",H).attr("fill","none").attr("stroke",AX).attr("stroke-width",1);
 lonTicks.forEach(v=>{
  [[TOP+H,TOP+H-3.8],[TOP,TOP+3.8]].forEach(([a,b])=>svg.append("line").attr("x1",x(v)).attr("x2",x(v)).attr("y1",a).attr("y2",b).attr("stroke",AX));
  svg.append("text").attr("x",x(v)).attr("y",TOP+H+19.5).attr("text-anchor","middle").attr("font-size",14.5).attr("fill",TX).text(v+"°");
 });
 latTicks.forEach(v=>{
  [[X0,X0+3.8],[X0+W,X0+W-3.8]].forEach(([a,b])=>svg.append("line").attr("x1",a).attr("x2",b).attr("y1",y(v)).attr("y2",y(v)).attr("stroke",AX));
  svg.append("text").attr("x",X0-4).attr("y",y(v)+5).attr("text-anchor","end").attr("font-size",14.5).attr("fill",TX).text(v+"°");
 });
 svg.append("text").attr("x",X0+W/2).attr("y",22).attr("text-anchor","middle").attr("font-size",15.8).attr("font-weight","bold").attr("fill","#000").text(title);
 svg.append("text").attr("x",X0+W/2).attr("y",442).attr("text-anchor","middle").attr("font-size",15.9).attr("fill",TX).text("Longitude");
 svg.append("text").attr("transform",`translate(${X0-31},${TOP+H/2}) rotate(-90)`).attr("text-anchor","middle").attr("font-size",15.9).attr("fill",TX).text("Latitude");
 // colorbar
 const bx=X0+W+5.5,bw=11.5;
 const by=d3.scaleLinear().domain([cmin,cmax]).range([TOP+H,TOP]);
 const gid="grad"+X0;
 const gr=svg.append("linearGradient").attr("id",gid).attr("x1",0).attr("x2",0).attr("y1",1).attr("y2",0);
 d3.range(0,1.0001,.02).forEach(k=>gr.append("stop").attr("offset",k).attr("stop-color",par(k)));
 svg.append("rect").attr("x",bx).attr("y",TOP).attr("width",bw).attr("height",H).attr("fill",`url(#${gid})`).attr("stroke",AX).attr("stroke-width",1);
 barTicks.forEach(v=>{
  svg.append("line").attr("x1",bx+bw).attr("x2",bx+bw-2.5).attr("y1",by(v)).attr("y2",by(v)).attr("stroke",AX);
  svg.append("text").attr("x",bx+bw+4).attr("y",by(v)+4.8).attr("font-size",13.6).attr("fill",TX).text(v);
 });
 svg.append("text").attr("transform",`translate(${labelX},${TOP+H/2}) rotate(-90)`).attr("text-anchor","middle").attr("font-size",13.3).attr("fill",TX).text(barLabel);
}
panel(53.5,"Estimated topographic load from observed data",leftContours,leftLabels,-4,6,leftBarTicks,"Rock-equivalent topography (km)",477);
panel(616,"Lithospheric depression (Vening-Meinesz)",rightContours,rightLabels,-55,-10,rightBarTicks,"Elevation (km)",1044);
</script></body></html>
